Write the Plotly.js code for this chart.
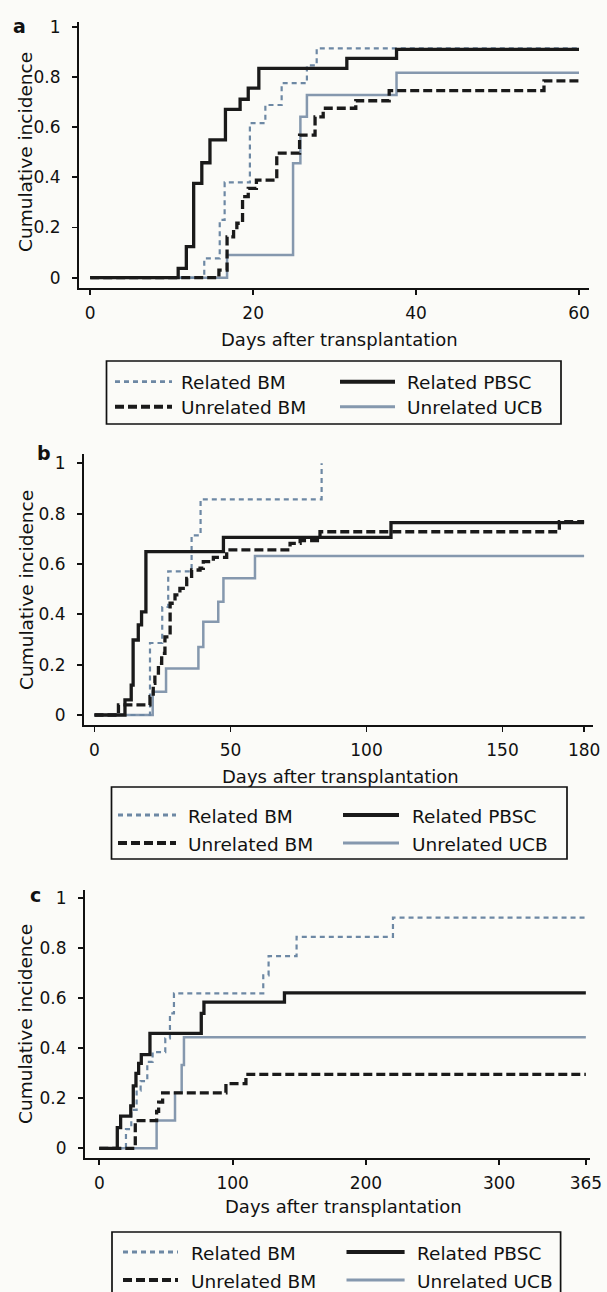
<!DOCTYPE html>
<html>
<head>
<meta charset="utf-8">
<script src="https://cdn.plot.ly/plotly-3.0.1.min.js"></script>
<style>
html,body{margin:0;padding:0;background:#fbfbf8;}
#chart{width:607px;height:1292px;}
</style>
</head>
<body>
<div id="chart"></div>
<script>
// ---------------- DATA ----------------
const seriesNames = ["Related BM", "Related PBSC", "Unrelated BM", "Unrelated UCB"];
const panelLetters = ["a", "b", "c"];
const xTitle = "Days after transplantation";
const yTitle = "Cumulative incidence";
const yTickVals = [0, 0.2, 0.4, 0.6, 0.8, 1];
const yTickText = ["0", "0.2", "0.4", "0.6", "0.8", "1"];
const aTickVals = [0, 20, 40, 60];
const bTickVals = [0, 50, 100, 150, 180];
const cTickVals = [0, 100, 200, 300, 365];

// Panel a (0-60 days)
const aRelBM_days = [0, 14.0, 15.9, 16.5, 19.6, 21.5, 23.5, 26.6, 27.8, 60];
const aRelBM_ci   = [0, 0.077, 0.23, 0.38, 0.616, 0.688, 0.775, 0.846, 0.914, 0.914];
const aPBSC_days  = [0, 10.8, 11.8, 12.7, 13.7, 14.7, 16.6, 18.4, 19.4, 20.7, 31.5, 37.6, 60];
const aPBSC_ci    = [0, 0.037, 0.124, 0.376, 0.458, 0.549, 0.671, 0.711, 0.755, 0.834, 0.874, 0.91, 0.91];
const aUBM_days   = [0, 15.8, 16.8, 17.6, 18.0, 18.7, 19.4, 20.4, 22.9, 25.7, 27.6, 28.6, 32.6, 36.7, 55.7, 60];
const aUBM_ci     = [0, 0.03, 0.163, 0.19, 0.217, 0.323, 0.356, 0.389, 0.496, 0.568, 0.641, 0.675, 0.705, 0.745, 0.784, 0.784];
const aUCB_days   = [0, 16.8, 24.9, 25.8, 26.6, 37.6, 60];
const aUCB_ci     = [0, 0.09, 0.456, 0.641, 0.728, 0.817, 0.817];

// Panel b (0-180 days)
const bRelBM_days = [0, 20.4, 24.9, 27.1, 35.7, 39.0, 83.5];
const bRelBM_ci   = [0, 0.286, 0.429, 0.571, 0.714, 0.857, 1.0];
const bPBSC_days  = [0, 11.2, 13.5, 14.2, 16.1, 17.3, 18.9, 47.4, 109, 180];
const bPBSC_ci    = [0, 0.06, 0.119, 0.298, 0.358, 0.41, 0.649, 0.706, 0.764, 0.764];
const bUBM_days   = [0, 8.8, 20.4, 21.6, 22.2, 23.5, 24.7, 25.9, 27.8, 29.6, 31.4, 33.9, 35.7, 38.8, 40.0, 43.7, 48.6, 71.9, 75.6, 82.9, 170.9, 180];
const bUBM_ci     = [0, 0.04, 0.073, 0.126, 0.166, 0.205, 0.245, 0.31, 0.444, 0.477, 0.503, 0.543, 0.576, 0.583, 0.609, 0.626, 0.656, 0.682, 0.693, 0.728, 0.768, 0.768];
const bUCB_days   = [0, 21.4, 26.3, 38.2, 40.0, 45.5, 47.4, 59.0, 180];
const bUCB_ci     = [0, 0.092, 0.185, 0.27, 0.37, 0.45, 0.543, 0.632, 0.632];

// Panel c (0-365 days)
const cRelBM_days = [0, 20.0, 24.0, 28.0, 31.0, 36.0, 40.0, 49.5, 53.0, 56.0, 123.0, 127.0, 148.0, 220.3, 365];
const cRelBM_ci   = [0, 0.077, 0.154, 0.231, 0.269, 0.346, 0.385, 0.44, 0.54, 0.62, 0.692, 0.769, 0.846, 0.923, 0.923];
const cPBSC_days  = [0, 13.5, 16.0, 23.6, 25.5, 27.5, 29.5, 31.5, 38.0, 76.5, 78.5, 138.9, 365];
const cPBSC_ci    = [0, 0.083, 0.129, 0.17, 0.25, 0.30, 0.34, 0.375, 0.46, 0.54, 0.585, 0.622, 0.622];
const cUBM_days   = [0, 27.0, 43.0, 44.5, 47.5, 95.0, 110.0, 365];
const cUBM_ci     = [0, 0.111, 0.148, 0.185, 0.222, 0.259, 0.296, 0.296];
const cUCB_days   = [0, 43.0, 56.8, 61.8, 63.5, 365];
const cUCB_ci     = [0, 0.111, 0.222, 0.333, 0.444, 0.444];

// ---------------- STYLE / LAYOUT ----------------
const W = 607, H = 1292;
const fx = p => p / W;
const fy = p => 1 - p / H;
const FONT = "DejaVu Sans, Liberation Sans, Arial, sans-serif";
const INK = "#111111";

const styles = [
  {color: "#6d88a4", width: 2.2, dash: "5px,4px"},   // Related BM
  {color: "#1a1a1a", width: 3.3, dash: "solid"},     // Related PBSC
  {color: "#1a1a1a", width: 3.3, dash: "9px,4px"},   // Unrelated BM
  {color: "#8598ae", width: 2.5, dash: "solid"}      // Unrelated UCB
];
const drawOrder = [3, 0, 2, 1];

const panels = [
  {xa: "x", ya: "y", ticks: aTickVals,
   series: [[aRelBM_days, aRelBM_ci], [aPBSC_days, aPBSC_ci], [aUBM_days, aUBM_ci], [aUCB_days, aUCB_ci]],
   left: 79, right: 588.5, top: 22, bottom: 287.7, x0: 90.2, ppd: 8.147, y0: 277.7, ppu: 251,
   letter: [19, 26], ytitle: [25, 152], xtitle: [339, 340],
   legend: {box: [106.5, 361, 561, 424], rows: [381.7, 406.7], samples: [[115, 172], [340, 395]], text: [179, 404.5]}},
  {xa: "x2", ya: "y2", ticks: bTickVals,
   series: [[bRelBM_days, bRelBM_ci], [bPBSC_days, bPBSC_ci], [bUBM_days, bUBM_ci], [bUCB_days, bUCB_ci]],
   left: 84, right: 593, top: 454, bottom: 725, x0: 94.5, ppd: 2.72, y0: 715, ppu: 251.7,
   letter: [44, 453], ytitle: [27, 590], xtitle: [340, 776],
   legend: {box: [111.5, 787, 567, 859], rows: [815, 843], samples: [[118, 176], [343, 399]], text: [186, 410]}},
  {xa: "x3", ya: "y3", ticks: cTickVals,
   series: [[cRelBM_days, cRelBM_ci], [cPBSC_days, cPBSC_ci], [cUBM_days, cUBM_ci], [cUCB_days, cUCB_ci]],
   left: 85, right: 590, top: 890, bottom: 1157.5, x0: 99.3, ppd: 1.333, y0: 1148.3, ppu: 250,
   letter: [35, 895], ytitle: [25, 1024], xtitle: [343, 1206],
   legend: {box: [112, 1232, 560.6, 1300], rows: [1252, 1280], samples: [[123, 178], [346.5, 404.6]], text: [189, 415]}}
];

const traces = [];
const shapes = [];
const annotations = [];
const layout = {
  width: W, height: H,
  margin: {l: 0, r: 0, t: 0, b: 0},
  paper_bgcolor: "#fbfbf8",
  plot_bgcolor: "rgba(0,0,0,0)",
  showlegend: false,
  font: {family: FONT, color: INK}
};

panels.forEach((p, i) => {
  const axX = {
    domain: [fx(p.left), fx(p.right)],
    range: [(p.left - p.x0) / p.ppd, (p.right - p.x0) / p.ppd],
    tickmode: "array", tickvals: p.ticks,
    showline: true, linecolor: INK, linewidth: 2,
    ticks: "outside", ticklen: 5, tickwidth: 1.8, tickcolor: INK,
    showgrid: false, zeroline: false, fixedrange: true,
    tickfont: {family: FONT, size: 17, color: INK},
    ticklabelstandoff: 4,
    anchor: p.ya
  };
  const axY = {
    domain: [fy(p.bottom), fy(p.top)],
    range: [(p.y0 - p.bottom) / p.ppu, (p.y0 - p.top) / p.ppu],
    tickmode: "array", tickvals: yTickVals, ticktext: yTickText,
    showline: true, linecolor: INK, linewidth: 2,
    ticks: "outside", ticklen: 5, tickwidth: 1.8, tickcolor: INK,
    showgrid: false, zeroline: false, fixedrange: true,
    tickfont: {family: FONT, size: 17, color: INK},
    ticklabelstandoff: 8,
    anchor: p.xa
  };
  const sfx = i === 0 ? "" : String(i + 1);
  layout["xaxis" + sfx] = axX;
  layout["yaxis" + sfx] = axY;

  drawOrder.forEach(s => {
    traces.push({
      type: "scatter", mode: "lines",
      x: p.series[s][0], y: p.series[s][1],
      name: seriesNames[s],
      xaxis: p.xa, yaxis: p.ya,
      line: {shape: "hv", color: styles[s].color, width: styles[s].width, dash: styles[s].dash},
      hoverinfo: "skip"
    });
  });

  // panel letter
  annotations.push({xref: "paper", yref: "paper", x: fx(p.letter[0]), y: fy(p.letter[1]),
    xanchor: "center", yanchor: "middle", showarrow: false, text: "<b>" + panelLetters[i] + "</b>",
    font: {family: FONT, size: 19, color: INK}});
  // y title
  annotations.push({xref: "paper", yref: "paper", x: fx(p.ytitle[0]), y: fy(p.ytitle[1]),
    xanchor: "center", yanchor: "middle", showarrow: false, textangle: -90, text: yTitle,
    font: {family: FONT, size: 18.5, color: INK}});
  // x title
  annotations.push({xref: "paper", yref: "paper", x: fx(p.xtitle[0]), y: fy(p.xtitle[1]),
    xanchor: "center", yanchor: "middle", showarrow: false, text: xTitle,
    font: {family: FONT, size: 18, color: INK}});

  // legend
  const L = p.legend;
  shapes.push({type: "rect", xref: "paper", yref: "paper",
    x0: fx(L.box[0]), x1: fx(L.box[2]), y0: fy(L.box[1]), y1: fy(L.box[3]),
    line: {color: INK, width: 1.7}, fillcolor: "rgba(0,0,0,0)"});
  seriesNames.forEach((nm, s) => {
    const col = s % 2, row = Math.floor(s / 2);
    shapes.push({type: "line", xref: "paper", yref: "paper",
      x0: fx(L.samples[col][0]), x1: fx(L.samples[col][1]),
      y0: fy(L.rows[row]), y1: fy(L.rows[row]),
      line: {color: styles[s].color, width: styles[s].width + 0.6, dash: styles[s].dash}});
    annotations.push({xref: "paper", yref: "paper", x: fx(L.text[col]), y: fy(L.rows[row] + 1),
      xanchor: "left", yanchor: "middle", showarrow: false, text: nm,
      font: {family: FONT, size: 18.5, color: INK}});
  });
});

layout.shapes = shapes;
layout.annotations = annotations;

Plotly.newPlot("chart", traces, layout, {staticPlot: true, displayModeBar: false});
</script>
</body>
</html>
